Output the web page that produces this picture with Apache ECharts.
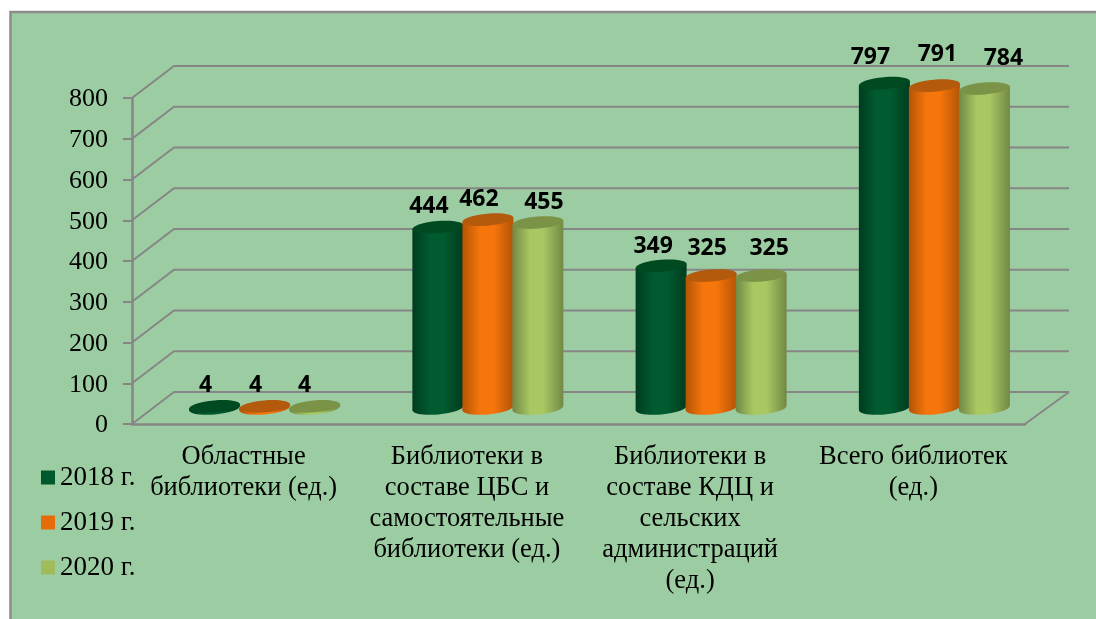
<!DOCTYPE html>
<html>
<head>
<meta charset="utf-8">
<style>
html, body { margin: 0; padding: 0; background: #fff; }
#chart { width: 1096px; height: 619px; }
</style>
<script src="https://cdn.jsdelivr.net/npm/echarts@6/dist/echarts.min.js"></script>
</head>
<body>
<div id="chart"></div>
<script>
var categories = [
    'Областные\nбиблиотеки (ед.)',
    'Библиотеки в\nсоставе ЦБС и\nсамостоятельные\nбиблиотеки (ед.)',
    'Библиотеки в\nсоставе КДЦ и\nсельских\nадминистраций\n(ед.)',
    'Всего библиотек\n(ед.)'
];
var seriesNames = ['2018 г.', '2019 г.', '2020 г.'];
var values2018 = [4, 444, 349, 797];
var values2019 = [4, 462, 325, 791];
var values2020 = [4, 455, 325, 784];
var yTicks = [0, 100, 200, 300, 400, 500, 600, 700, 800];

// the labels sit by hand in the original, so they get their own nudges
var nudge2018 = [[-9, -21], [-9, -21], [-8, -19], [-14, -26]];
var nudge2019 = [[-9, -21], [-9, -20], [-4, -27], [3, -31]];
var nudge2020 = [[-10, -21], [6, -20], [8, -27], [19, -30]];

var colors = [
    { legend: '#00592d', edge: '#003c1e', mid: '#005c30', top: '#004a22' },
    { legend: '#e66c0a', edge: '#b45405', mid: '#f7760c', top: '#b35a0d' },
    { legend: '#a0bb5a', edge: '#728845', mid: '#a9c862', top: '#7a9347' }
];
var gridColor = '#868686';
var depthX = 42, depthY = 32;

var myChart = echarts.init(document.getElementById('chart'));

function renderWall(params, api) {
    var p = api.coord([0, api.value(0)]);
    var xLeft = params.coordSys.x;
    var xRight = params.coordSys.x + params.coordSys.width;
    var y = p[1];
    var items = [{
        type: 'polyline',
        shape: { points: [[xLeft, y], [xLeft + depthX, y - depthY], [xRight + depthX + 2, y - depthY]] },
        style: { stroke: gridColor, lineWidth: 2, fill: null }
    }];
    if (api.value(0) === 0) {
        items.push({
            type: 'line',
            shape: { x1: xRight, y1: y, x2: xRight + depthX + 2, y2: y - depthY },
            style: { stroke: gridColor, lineWidth: 2 }
        });
    }
    return { type: 'group', silent: true, children: items };
}

function cylinder(index, nudges) {
    return function (params, api) {
        var step = api.size([1, 0])[0] * 0.224;
        var r = step / 2 + 0.5;
        var top = api.coord([api.value(0), api.value(1)]);
        var base = api.coord([api.value(0), 0]);
        var cx = top[0] + (index - 1) * step + depthX / 2;
        var yTop = top[1] - depthY / 2;
        var yBase = base[1] - depthY / 2;
        var rot = 0.085;
        var tilt = r * Math.sin(rot);
        var c = colors[index];
        var fill = new echarts.graphic.LinearGradient(0, 0, 1, 0, [
            { offset: 0, color: c.edge },
            { offset: 0.35, color: c.mid },
            { offset: 0.6, color: c.mid },
            { offset: 1, color: c.edge }
        ]);
        var nudge = nudges[api.value(0)];
        return {
            type: 'group',
            children: [
                {
                    type: 'ellipse', x: cx, y: yBase, rotation: rot,
                    shape: { cx: 0, cy: 0, rx: r, ry: 6.5 },
                    style: { fill: fill }
                },
                {
                    type: 'polygon',
                    shape: { points: [
                        [cx - r, yTop + tilt], [cx + r, yTop - tilt],
                        [cx + r, yBase - tilt], [cx - r, yBase + tilt]
                    ] },
                    style: { fill: fill }
                },
                {
                    type: 'ellipse', x: cx, y: yTop, rotation: rot,
                    shape: { cx: 0, cy: 0, rx: r, ry: 6 },
                    style: { fill: c.top }
                },
                {
                    type: 'text',
                    x: cx + nudge[0], y: yTop + nudge[1],
                    style: {
                        text: String(api.value(1)),
                        fill: '#000',
                        font: 'bold 23px "Open Sans", sans-serif',
                        textAlign: 'center',
                        textVerticalAlign: 'middle'
                    }
                }
            ]
        };
    };
}

function toPairs(values) {
    return values.map(function (v, i) { return [i, v]; });
}

var option = {
    animation: false,
    backgroundColor: '#fff',
    graphic: [{
        type: 'rect',
        z: -10,
        shape: { x: 10.5, y: 12, width: 1120, height: 640 },
        style: { fill: '#9ccda2', stroke: '#8c8c8c', lineWidth: 2.5 }
    }],
    grid: { left: 132, right: 71, top: 98, height: 326 },
    legend: {
        orient: 'vertical',
        left: 36,
        top: 459,
        itemWidth: 14,
        itemHeight: 14,
        itemGap: 18,
        icon: 'rect',
        data: seriesNames,
        selectedMode: false,
        textStyle: { fontFamily: 'Liberation Serif', fontSize: 27, color: '#000' }
    },
    xAxis: {
        type: 'category',
        data: categories,
        axisLine: { lineStyle: { color: gridColor, width: 2.5 } },
        axisTick: { length: 6, lineStyle: { color: gridColor, width: 2 } },
        axisLabel: { interval: 0, margin: 18, fontFamily: 'Liberation Serif', fontSize: 26.5, lineHeight: 31, color: '#000' }
    },
    yAxis: {
        type: 'value',
        min: 0,
        max: 800,
        interval: 100,
        splitLine: { show: false },
        axisLine: { show: true, lineStyle: { color: gridColor, width: 2.5 } },
        axisTick: { show: true, length: 9, lineStyle: { color: gridColor, width: 2 } },
        axisLabel: { margin: 24, verticalAlign: 'top', lineHeight: 3, fontFamily: 'Liberation Serif', fontSize: 26, color: '#000' }
    },
    series: [
        {
            type: 'custom', name: 'wall', z: 1, silent: true,
            renderItem: renderWall,
            data: yTicks.map(function (t) { return [t]; }),
            encode: { y: 0 }
        },
        {
            type: 'custom', name: seriesNames[0], z: 2, renderItem: cylinder(0, nudge2018),
            itemStyle: { color: colors[0].legend }, data: toPairs(values2018), encode: { x: 0, y: 1 }
        },
        {
            type: 'custom', name: seriesNames[1], z: 3, renderItem: cylinder(1, nudge2019),
            itemStyle: { color: colors[1].legend }, data: toPairs(values2019), encode: { x: 0, y: 1 }
        },
        {
            type: 'custom', name: seriesNames[2], z: 4, renderItem: cylinder(2, nudge2020),
            itemStyle: { color: colors[2].legend }, data: toPairs(values2020), encode: { x: 0, y: 1 }
        }
    ]
};
myChart.setOption(option);
</script>
</body>
</html>
